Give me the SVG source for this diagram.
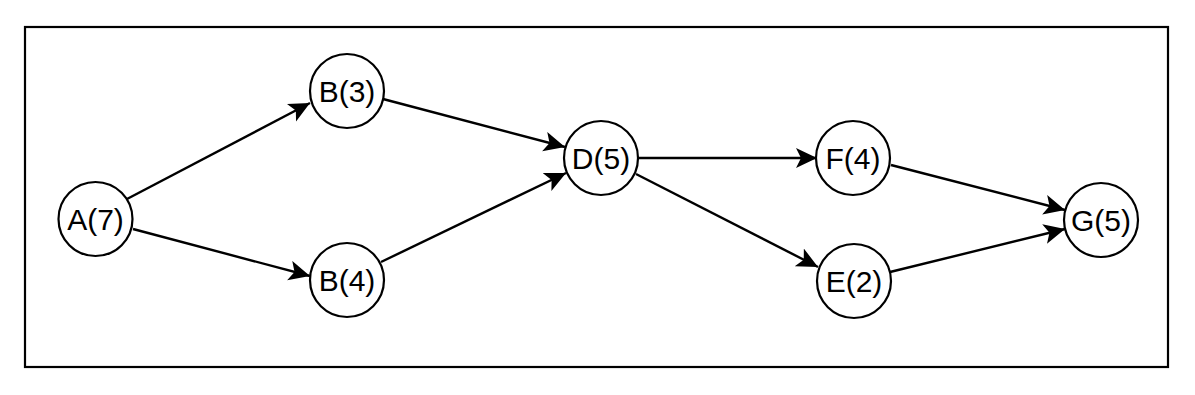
<svg xmlns="http://www.w3.org/2000/svg" width="1195" height="395" viewBox="0 0 1195 395">
<style>
.n{fill:#fff;stroke:#000;stroke-width:2.2}
.t{font-family:"Liberation Sans",Arial,sans-serif;font-size:30px;fill:#000;text-anchor:middle;dominant-baseline:central}
.e{stroke:#000;stroke-width:2.4;fill:none;marker-end:url(#ah)}
</style>
<defs>
<marker id="ah" markerUnits="userSpaceOnUse" markerWidth="24" markerHeight="22" refX="21" refY="10" orient="auto">
<path d="M0,0 L21,10 L0,20 L5,10 z" fill="#000"/>
</marker>
</defs>
<rect x="0" y="0" width="1195" height="395" fill="#fff"/>
<rect x="25" y="27" width="1143" height="340" fill="none" stroke="#000" stroke-width="2.2"/>
<g id="connectors">
<line class="e" x1="127" y1="199" x2="310" y2="103"/>
<line class="e" x1="133" y1="229" x2="310" y2="276"/>
<line class="e" x1="383" y1="99" x2="565" y2="147"/>
<line class="e" x1="381" y1="262" x2="566" y2="173"/>
<line class="e" x1="638" y1="158" x2="817" y2="158"/>
<line class="e" x1="636" y1="174" x2="818" y2="267"/>
<line class="e" x1="891" y1="165" x2="1065" y2="210"/>
<line class="e" x1="890" y1="272" x2="1065" y2="229"/>
</g>
<g id="A"><circle class="n" cx="95.5" cy="219" r="37"/><text class="t" x="95.5" y="219">A(7)</text></g>
<g id="B3"><circle class="n" cx="347" cy="91" r="37"/><text class="t" x="347" y="91">B(3)</text></g>
<g id="B4"><circle class="n" cx="347" cy="280" r="37"/><text class="t" x="347" y="280">B(4)</text></g>
<g id="D"><circle class="n" cx="601" cy="158" r="37"/><text class="t" x="601" y="158">D(5)</text></g>
<g id="F"><circle class="n" cx="853" cy="158" r="37"/><text class="t" x="853" y="158">F(4)</text></g>
<g id="E"><circle class="n" cx="854" cy="281" r="37"/><text class="t" x="854" y="281">E(2)</text></g>
<g id="G"><circle class="n" cx="1101" cy="220" r="37"/><text class="t" x="1101" y="220">G(5)</text></g>
</svg>
